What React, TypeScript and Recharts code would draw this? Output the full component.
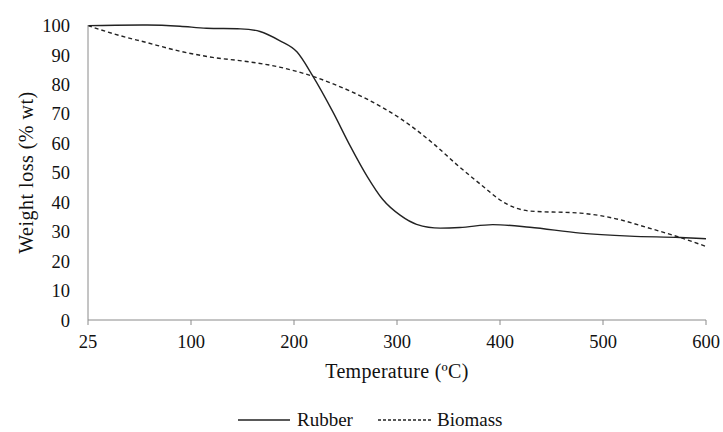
import React from "react";
import { LineChart, Line, XAxis, YAxis, Legend } from "recharts";

const tickTemps = [25, 100, 200, 300, 400, 500, 600];
const tickLabels = ["25", "100", "200", "300", "400", "500", "600"];
const yTicks = [0, 10, 20, 30, 40, 50, 60, 70, 80, 90, 100];

const rubberTemps = [25, 45, 68, 92, 115, 148, 167, 186, 203, 218, 238, 254, 271, 286, 303, 319, 342, 361, 393, 429, 478, 526, 575, 600];
const rubberValues = [100, 100.1, 100.2, 99.8, 99.1, 98.9, 98, 94.9, 91, 83, 70.5, 59.5, 48.8, 41, 35.6, 32.5, 31.2, 31.4, 32.4, 31.5, 29.5, 28.5, 28, 27.6];

const biomassTemps = [25, 43, 68, 92, 121, 154, 186, 206, 218, 238, 271, 303, 335, 359, 380, 406, 429, 478, 510, 542, 575, 600];
const biomassValues = [100, 97.3, 94.2, 91.3, 89.2, 87.8, 85.9, 84.1, 82.8, 80.2, 75, 68.5, 60, 52.5, 46.4, 39.5, 37, 36.3, 34.6, 31.5, 28, 25];

// position on the category-like axis (ticks equally spaced)
function toPos(t: number): number {
  for (let i = 0; i < tickTemps.length - 1; i++) {
    if (t <= tickTemps[i + 1]) {
      return i + (t - tickTemps[i]) / (tickTemps[i + 1] - tickTemps[i]);
    }
  }
  return tickTemps.length - 1;
}

const rubberData = rubberTemps.map((t, i) => ({ pos: toPos(t), value: rubberValues[i] }));
const biomassData = biomassTemps.map((t, i) => ({ pos: toPos(t), value: biomassValues[i] }));

const FONT = "'Liberation Serif', 'Times New Roman', serif";
const AXIS = "#8a8a8a";
const LINE = "#222";

const LegendContent = () => (
  <svg width={723} height={24} style={{ display: "block" }}>
    <line x1={238} x2={290} y1={12} y2={12} stroke={LINE} strokeWidth={1.3} />
    <text x={297} y={18} fontFamily={FONT} fontSize={19} fill="#111">Rubber</text>
    <line x1={378} x2={432} y1={12} y2={12} stroke={LINE} strokeWidth={1.3} strokeDasharray="3 2" />
    <text x={437} y={18} fontFamily={FONT} fontSize={19} fill="#111">Biomass</text>
  </svg>
);

const YTitle = (props: any) => {
  const vb = props.viewBox || {};
  const cx = 26;
  const cy = vb.y + vb.height / 2;
  return (
    <text x={cx} y={cy} transform={`rotate(-90 ${cx} ${cy})`} textAnchor="middle" dominantBaseline="central" fontFamily={FONT} fontSize={20} letterSpacing={0.5} fill="#111">
      Weight loss (% wt)
    </text>
  );
};

const XTitle = (props: any) => {
  const vb = props.viewBox || {};
  const cx = vb.x + vb.width / 2;
  return (
    <text x={cx} y={378} textAnchor="middle" fontFamily={FONT} fontSize={20} letterSpacing={0.3} fill="#111">
      Temperature (ºC)
    </text>
  );
};

export default function App() {
  return (
    <div style={{ width: 723, height: 432, fontFamily: FONT }}>
      <style>{`html,body{margin:0;padding:0;overflow:hidden;}`}</style>
      <LineChart width={723} height={432} margin={{ top: 25, right: 17, left: 28, bottom: 52 }} style={{ fontFamily: FONT }}>
        <XAxis
          type="number"
          dataKey="pos"
          domain={[0, 6]}
          ticks={[0, 1, 2, 3, 4, 5, 6]}
          tickFormatter={(v: number) => tickLabels[v]}
          allowDataOverflow
          stroke={AXIS}
          tickSize={5}
          tickMargin={10}
          height={60}
          tick={{ fontFamily: FONT, fontSize: 18.5, fill: "#111" }}
          label={<XTitle />}
        />
        <YAxis
          type="number"
          domain={[0, 100]}
          ticks={yTicks}
          interval={0}
          width={60}
          stroke={AXIS}
          tickLine={false}
          tickSize={6}
          tickMargin={12}
          tick={{ fontFamily: FONT, fontSize: 18.5, fill: "#111" }}
          label={<YTitle />}
        />
        <Legend
          layout="horizontal"
          verticalAlign="middle"
          content={<LegendContent />}
          wrapperStyle={{ top: 408, left: 0, width: 723, height: 24 }}
        />
        <Line
          data={rubberData}
          dataKey="value"
          name="Rubber"
          type="monotone"
          stroke={LINE}
          strokeWidth={1.4}
          dot={false}
          isAnimationActive={false}
        />
        <Line
          data={biomassData}
          dataKey="value"
          name="Biomass"
          type="monotone"
          stroke={LINE}
          strokeWidth={1.4}
          strokeDasharray="4 3"
          dot={false}
          isAnimationActive={false}
        />
      </LineChart>
    </div>
  );
}
